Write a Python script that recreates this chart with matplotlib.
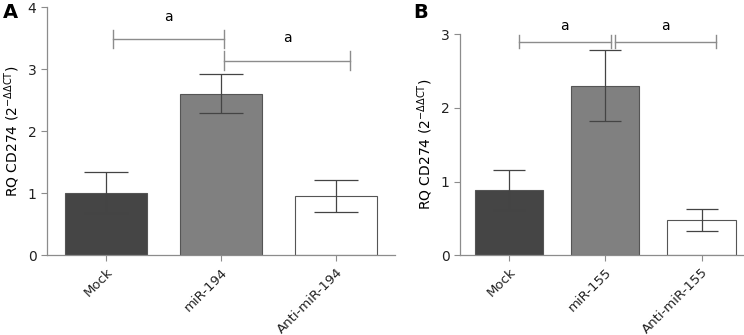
import matplotlib.pyplot as plt
import matplotlib.transforms as mtransforms

# panel A data
groups_a = ["Mock", "miR-194", "Anti-miR-194"]
means_a = [1.01, 2.61, 0.96]
errs_a = [0.33, 0.31, 0.26]

# panel B data
groups_b = ["Mock", "miR-155", "Anti-miR-155"]
means_b = [0.89, 2.30, 0.48]
errs_b = [0.27, 0.48, 0.15]

bar_colors = ["#454545", "#808080", "#ffffff"]
axis_col = "#8c8c8c"
ylab = r"RQ CD274 (2$^{\mathrm{-\Delta\Delta CT}}$)"

plt.rcParams['font.family'] = ['DejaVu Sans']
plt.rcParams['font.size'] = 10

fig = plt.figure(figsize=(7.44, 3.35), dpi=100)
ax_a = fig.add_axes([0.063, 0.238, 0.468, 0.740])
ax_b = fig.add_axes([0.618, 0.238, 0.382, 0.660])


def draw_panel(ax, groups, means, errs, ymax, capsize):
    x = list(range(len(groups)))
    ax.bar(x, means, width=0.71, color=bar_colors, edgecolor="#555555", linewidth=0.8, zorder=2)
    ax.errorbar(x, means, yerr=errs, fmt="none", ecolor="#444444", elinewidth=0.9,
                capsize=capsize, capthick=0.9, zorder=3)
    ax.set_ylim(0, ymax)
    ax.set_yticks(range(ymax + 1))
    ax.set_xticks(x)
    ax.set_xticklabels(groups, rotation=45, ha="right", rotation_mode="anchor", fontsize=9.5)
    shift = mtransforms.ScaledTranslation(8 / 72, -2 / 72, fig.dpi_scale_trans)
    for lab in ax.get_xticklabels():
        lab.set_transform(lab.get_transform() + shift)
    ax.set_ylabel(ylab, labelpad=4)
    for s in ["top", "right"]:
        ax.spines[s].set_visible(False)
    for s in ["left", "bottom"]:
        ax.spines[s].set_color(axis_col)
        ax.spines[s].set_linewidth(0.9)
    ax.tick_params(colors=axis_col, labelcolor="#222222", length=4, width=0.8)


def sig_bar(ax, x1, x2, y, h, label_y):
    ax.plot([x1, x2], [y, y], color="#8c8c8c", lw=1.0, clip_on=False)
    for xx in (x1, x2):
        ax.plot([xx, xx], [y - h, y + h], color="#8c8c8c", lw=1.0, clip_on=False)
    ax.text((x1 + x2) / 2, label_y, "a", ha="center", va="center", fontsize=10)


draw_panel(ax_a, groups_a, means_a, errs_a, 4, 16)
ax_a.set_xlim(-0.51, 2.51)
sig_bar(ax_a, 0.06, 1.03, 3.49, 0.15, 3.84)
sig_bar(ax_a, 1.03, 2.12, 3.14, 0.15, 3.50)

draw_panel(ax_b, groups_b, means_b, errs_b, 3, 11.5)
ax_b.set_xlim(-0.51, 2.44)
sig_bar(ax_b, 0.10, 1.06, 2.90, 0.09, 3.11)
sig_bar(ax_b, 1.10, 2.15, 2.90, 0.09, 3.11)

fig.text(0.004, 0.945, "A", fontsize=14, fontweight="bold")
fig.text(0.556, 0.945, "B", fontsize=14, fontweight="bold")

fig.savefig("out.png", dpi=100)
